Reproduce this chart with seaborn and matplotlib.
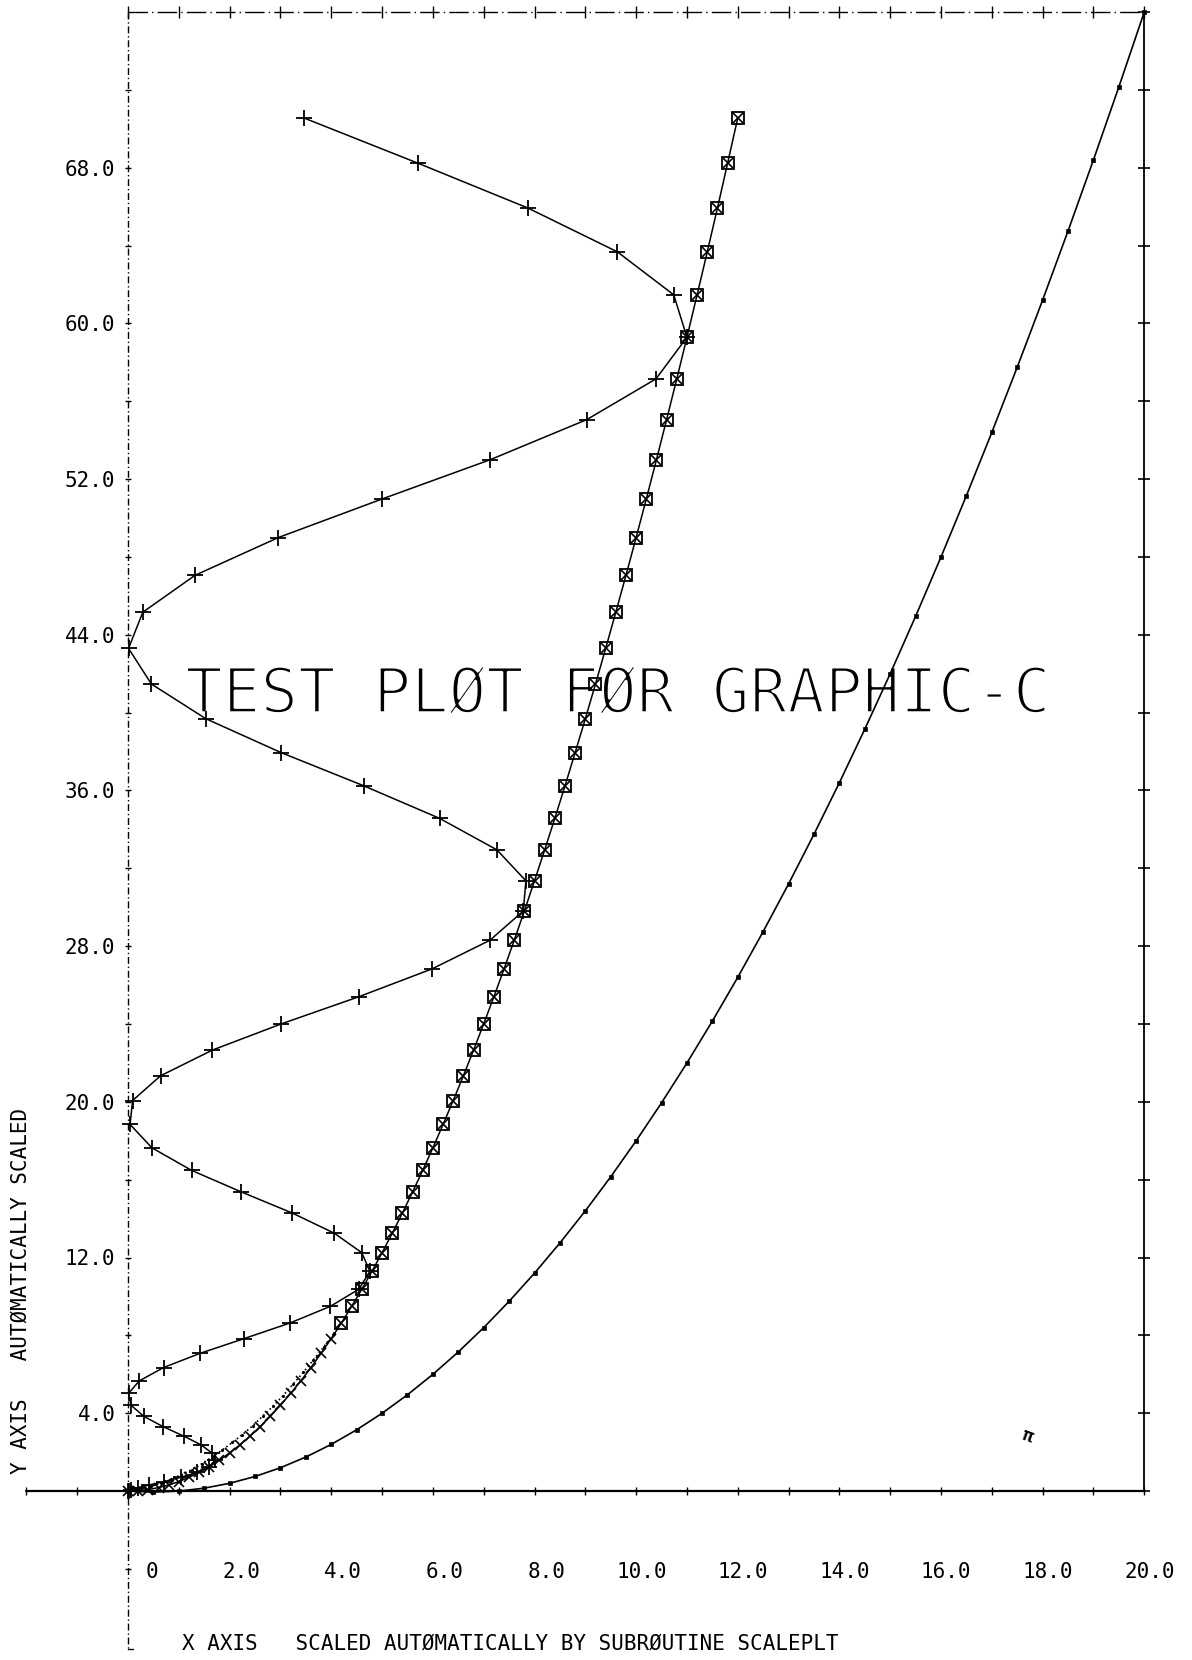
import numpy as np
import matplotlib
matplotlib.use("Agg")
from matplotlib import pyplot as plt
from matplotlib import patheffects
import seaborn as sns

# values read off the scanned plotter output
# x of the "box" curve, one point every 0.2
box_x = [0.0, 0.2, 0.4, 0.6, 0.8, 1.0, 1.2, 1.4, 1.6, 1.8, 2.0, 2.2, 2.4, 2.6, 2.8,
         3.0, 3.2, 3.4, 3.6, 3.8, 4.0, 4.2, 4.4, 4.6, 4.8, 5.0, 5.2, 5.4, 5.6, 5.8,
         6.0, 6.2, 6.4, 6.6, 6.8, 7.0, 7.2, 7.4, 7.6, 7.8, 8.0, 8.2, 8.4, 8.6, 8.8,
         9.0, 9.2, 9.4, 9.6, 9.8, 10.0, 10.2, 10.4, 10.6, 10.8, 11.0, 11.2, 11.4, 11.6,
         11.8, 12.0]
# y shared by the box curve and the "+" curve
curve_y = [0.0, 0.02, 0.08, 0.18, 0.31, 0.49, 0.71, 0.96, 1.25, 1.59, 1.96, 2.37, 2.82,
           3.31, 3.84, 4.41, 5.02, 5.66, 6.35, 7.08, 7.84, 8.64, 9.49, 10.37, 11.29,
           12.25, 13.25, 14.29, 15.37, 16.48, 17.64, 18.84, 20.07, 21.34, 22.66, 24.01,
           25.40, 26.83, 28.30, 29.81, 31.36, 32.95, 34.57, 36.24, 37.95, 39.69, 41.47,
           43.30, 45.16, 47.06, 49.00, 50.98, 53.00, 55.06, 57.15, 59.29, 61.47, 63.68,
           65.93, 68.23, 70.56]
# x of the oscillating "+" curve
plus_x = [0.0, 0.01, 0.06, 0.19, 0.41, 0.71, 1.04, 1.36, 1.60, 1.71, 1.65,
          1.44, 1.10, 0.69, 0.31, 0.06, 0.01, 0.22, 0.70, 1.42, 2.29,
          3.19, 3.98, 4.54, 4.76, 4.60, 4.06, 3.23, 2.23, 1.25, 0.47,
          0.04, 0.09, 0.64, 1.66, 3.02, 4.54, 5.98, 7.12, 7.78, 7.83,
          7.26, 6.13, 4.64, 3.01, 1.53, 0.46, 0.01, 0.29, 1.32, 2.96,
          5.00, 7.13, 9.03, 10.39, 11.00, 10.74, 9.63, 7.87, 5.71, 3.46]
# wide parabola with small filled squares
para_x = [0.0, 0.5, 1.0, 1.5, 2.0, 2.5, 3.0, 3.5, 4.0, 4.5, 5.0, 5.5, 6.0, 6.5, 7.0,
          7.5, 8.0, 8.5, 9.0, 9.5, 10.0, 10.5, 11.0, 11.5, 12.0, 12.5, 13.0, 13.5,
          14.0, 14.5, 15.0, 15.5, 16.0, 16.5, 17.0, 17.5, 18.0, 18.5, 19.0, 19.5, 20.0]
para_y = [0.0, -0.05, 0.0, 0.15, 0.4, 0.75, 1.2, 1.75, 2.4, 3.15, 4.0, 4.95, 6.0,
          7.15, 8.4, 9.75, 11.2, 12.75, 14.4, 16.15, 18.0, 19.95, 22.0, 24.15, 26.4,
          28.75, 31.2, 33.75, 36.4, 39.15, 42.0, 44.95, 48.0, 51.15, 54.4, 57.75,
          61.2, 64.75, 68.4, 72.15, 76.0]
# faint dotted trace next to the bottom of the box curve
ghost_x = [0.05, 0.25, 0.45, 0.65, 0.85, 1.05, 1.25, 1.45, 1.65, 1.85, 2.05, 2.25,
           2.45, 2.65, 2.85, 3.05, 3.25, 3.45, 3.65, 3.85, 4.05]
ghost_y = [0.1, 0.15, 0.25, 0.4, 0.6, 0.85, 1.1, 1.4, 1.75, 2.1, 2.5, 2.9, 3.35,
           3.85, 4.35, 4.9, 5.5, 6.1, 6.75, 7.4, 8.1]

x_label_pos = [0, 2, 4, 6, 8, 10, 12, 14, 16, 18, 20]
x_labels = ["0", "2.0", "4.0", "6.0", "8.0", "10.0", "12.0", "14.0", "16.0", "18.0", "20.0"]
y_label_pos = [4, 12, 20, 28, 36, 44, 52, 60, 68]
y_labels = ["4.0", "12.0", "20.0", "28.0", "36.0", "44.0", "52.0", "60.0", "68.0"]

sns.set_theme(style="white")
plt.rcParams['font.family'] = ['DejaVu Sans Mono', 'DejaVu Sans']

fig = plt.figure(figsize=(11.92, 16.6), dpi=100)
ax = fig.add_axes([0, 0, 1, 1])
ax.set_xlim(-2.52, 20.94)
ax.set_ylim(-8.68, 76.62)
ax.axis('off')

k = 'black'
# thin the big title strokes, plotter pens are fine
thin_big = [patheffects.Normal(), patheffects.Stroke(linewidth=2.0, foreground='white')]

# frame: dash-dot left axis and top, solid right side and x axis
ax.plot([0, 0], [76, -8.1], color=k, lw=1.0, ls=(0, (5, 2, 1, 2)))
ax.plot([0, 0.1], [-8.1, -8.1], color=k, lw=1.0)
ax.plot([0, 20], [76, 76], color=k, lw=1.0, ls=(0, (14, 3, 1, 3)))
ax.plot([20, 20], [0, 76], color=k, lw=1.3)
ax.plot([-2, 20], [0, 0], color=k, lw=1.6)

# tick crosses
ax.plot(np.arange(0, 21), np.full(21, 76.0), ls='', marker='|', ms=9, mew=1.0, color=k)
ax.plot(np.full(20, 20.0), np.arange(0, 77, 4), ls='', marker='_', ms=9, mew=1.2, color=k)
ax.plot(np.zeros(20), np.arange(-4, 73, 4), ls='', marker='_', ms=5, mew=1.0, color=k)
ax.plot(np.arange(-2, 21), np.zeros(23), ls='', marker='|', ms=6, mew=1.0, color=k)

# texts (title under the curves, as on the plotter sheet)
ax.text(9.64, 40.0, "TEST PLØT FØR GRAPHIC-C", ha='center', va='baseline',
        fontsize=45, color=k, path_effects=thin_big, zorder=1)
for v, s in zip(x_label_pos, x_labels):
    ax.text(v + 0.6, -4.45, s, ha='right', va='baseline', fontsize=15, color=k)
for v, s in zip(y_label_pos, y_labels):
    ax.text(-0.25, v - 0.4, s, ha='right', va='baseline', fontsize=15, color=k)
ax.text(1.06, -8.15, "X AXIS   SCALED AUTØMATICALLY BY SUBRØUTINE SCALEPLT",
        ha='left', va='baseline', fontsize=15, color=k)
ax.text(-2.12, 0.9, "Y AXIS   AUTØMATICALLY SCALED", rotation=90,
        ha='center', va='bottom', fontsize=15, color=k)
ax.text(17.7, 2.8, "π", ha='center', va='center', fontsize=13, fontweight='bold',
        rotation=-20, color=k)

# curves
sns.lineplot(x=para_x, y=para_y, sort=False, estimator=None, color=k, lw=1.2,
             marker='s', ms=3.5, mec=k, mfc=k, mew=0.5, ax=ax, zorder=3)
sns.lineplot(x=box_x, y=curve_y, sort=False, estimator=None, color=k, lw=1.1,
             ax=ax, zorder=3)
ax.plot(box_x[21:], curve_y[21:], ls='', marker='s', ms=9, mfc='none', mec=k,
        mew=1.3, zorder=4)
ax.plot(box_x, curve_y, ls='', marker='x', ms=7, mec=k, mew=1.2, zorder=4)
ax.plot(ghost_x, ghost_y, ls=':', lw=1.2, color=k, marker='.', ms=2.5, zorder=3)
sns.lineplot(x=plus_x, y=curve_y, sort=False, estimator=None, color=k, lw=1.1,
             marker='+', ms=12, mec=k, mew=1.3, ax=ax, zorder=4)

fig.savefig("out.png", dpi=100, facecolor='white')
